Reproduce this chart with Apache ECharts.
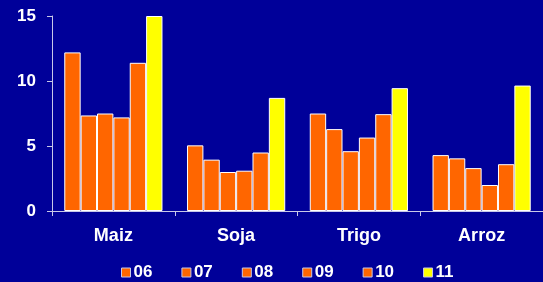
<!DOCTYPE html>
<html>
<head>
<meta charset="utf-8">
<script src="https://cdn.jsdelivr.net/npm/echarts@6/dist/echarts.min.js"></script>
<style>
  html, body { margin: 0; padding: 0; background: #000099; }
  #chart { width: 543px; height: 282px; }
</style>
</head>
<body>
<div id="chart"></div>
<script>
// cultivos
const categories = ['Maiz', 'Soja', 'Trigo', 'Arroz'];
const years = ['06', '07', '08', '09', '10', '11'];
// valores por año (Maiz, Soja, Trigo, Arroz)
const v06 = [12.2, 5.05, 7.5, 4.3];
const v07 = [7.35, 3.95, 6.3, 4.05];
const v08 = [7.5, 3.0, 4.6, 3.3];
const v09 = [7.2, 3.1, 5.65, 2.0];
const v10 = [11.4, 4.5, 7.45, 3.6];
const v11 = [15.0, 8.7, 9.45, 9.65];
const yTicks = [0, 5, 10, 15];

const seriesData = [v06, v07, v08, v09, v10, v11];
const colors = ['#ff6600', '#ff6600', '#ff6600', '#ff6600', '#ff6600', '#ffff00'];
const font = 'Liberation Sans, Arial, sans-serif';

const chart = echarts.init(document.getElementById('chart'));
chart.setOption({
  backgroundColor: '#000099',
  animation: false,
  legend: {
    data: years,
    left: 116,
    top: 259,
    itemWidth: 9,
    itemHeight: 9,
    itemGap: 29,
    icon: 'rect',
    itemStyle: { borderColor: '#c8c8e8', borderWidth: 1 },
    textStyle: { color: '#ffffff', fontSize: 17, fontWeight: 'bold', fontFamily: font, padding: [0, 0, 0, -2] },
  },
  grid: {
    left: 52,
    right: -3,
    top: 16,
    bottom: 71,
  },
  xAxis: {
    type: 'category',
    data: categories,
    axisLine: { lineStyle: { color: '#c8c8e8', width: 1 } },
    axisTick: { show: true, length: 5, lineStyle: { color: '#c8c8e8' } },
    axisLabel: { color: '#ffffff', fontSize: 18, fontWeight: 'bold', fontFamily: font, margin: 16 },
  },
  yAxis: {
    type: 'value',
    min: yTicks[0],
    max: yTicks[yTicks.length - 1],
    interval: 5,
    splitLine: { show: false },
    axisLine: { show: true, lineStyle: { color: '#c8c8e8', width: 1 } },
    axisTick: { show: true, length: 5, lineStyle: { color: '#c8c8e8' } },
    axisLabel: { color: '#ffffff', fontSize: 17, fontWeight: 'bold', fontFamily: font, margin: 16 },
  },
  series: years.map((y, i) => ({
    name: y,
    type: 'bar',
    data: seriesData[i],
    barGap: '0%',
    barCategoryGap: '20%',
    itemStyle: { color: colors[i], borderColor: '#ffffff', borderWidth: 1 },
  })),
});
</script>
</body>
</html>
